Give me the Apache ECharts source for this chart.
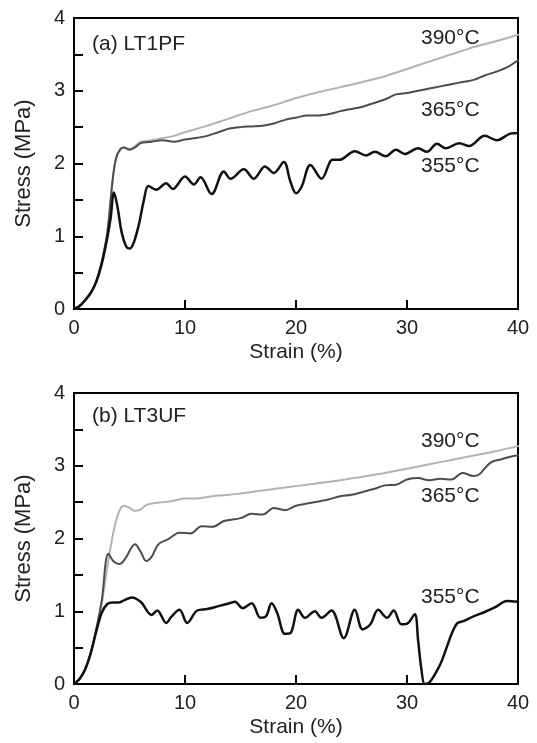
<!DOCTYPE html>
<html>
<head>
<meta charset="utf-8">
<script src="https://cdn.jsdelivr.net/npm/echarts@6/dist/echarts.min.js"></script>
<style>html,body{margin:0;padding:0;background:#fff;}#c{width:537px;height:743px;}</style>
</head>
<body>
<div id="c"></div>
<script>
// ---- Panel (a) LT1PF ----
const strainA390 = [0,0.5,1,1.5,2,2.5,3,3.5,3.8,4.2,4.5,5,5.5,6,7,8,9,10,12,14,16,18,20,22,24,26,28,30,32,34,36,38,40];
const stressA390 = [0,0.04,0.12,0.22,0.38,0.65,1.05,1.8,2.08,2.2,2.22,2.2,2.24,2.3,2.32,2.35,2.38,2.43,2.52,2.62,2.72,2.8,2.9,2.98,3.05,3.12,3.2,3.3,3.4,3.5,3.6,3.68,3.77];

const strainA365 = [0,0.5,1,1.5,2,2.5,3,3.5,3.8,4.2,4.5,5,5.5,6,7,8,9,10,11,12,13,14,15,16,17,18,19,20,21,22,23,24,25,26,27,28,29,30,31,32,33,34,35,36,37,38,39,40];
const stressA365 = [0,0.04,0.12,0.22,0.38,0.65,1.05,1.8,2.08,2.2,2.22,2.19,2.22,2.28,2.3,2.32,2.3,2.33,2.35,2.38,2.43,2.48,2.5,2.51,2.52,2.55,2.6,2.63,2.66,2.66,2.68,2.72,2.75,2.78,2.83,2.88,2.95,2.97,3.0,3.03,3.06,3.09,3.12,3.15,3.21,3.26,3.32,3.42];

const strainA355 = [0,0.5,1,1.5,2,2.5,3,3.3,3.6,3.9,4.3,4.7,5.0,5.4,5.9,6.3,6.7,7.4,8.3,8.9,10.0,10.8,11.4,12.4,13.5,14.1,15.3,16.2,17.2,18.0,18.9,19.5,20.0,20.5,21.3,22.3,23.3,23.9,25.3,26.3,27.1,28.1,29.0,29.8,31.0,31.8,32.7,33.5,34.7,35.6,37.0,38.1,39.3,40];
const stressA355 = [0,0.04,0.12,0.22,0.37,0.62,0.98,1.25,1.6,1.42,1.05,0.86,0.83,0.92,1.2,1.5,1.69,1.64,1.73,1.65,1.82,1.71,1.81,1.58,1.89,1.79,1.92,1.79,1.96,1.87,2.02,1.75,1.59,1.68,1.98,1.79,2.05,2.05,2.17,2.11,2.16,2.1,2.19,2.13,2.21,2.16,2.27,2.21,2.28,2.24,2.38,2.32,2.41,2.42];

// ---- Panel (b) LT3UF ----
const strainB390 = [0,0.5,1,1.5,2,2.5,3,3.5,4,4.5,5,5.5,6,6.5,7,8,9,10,11,12,13,14,15,16,17,18,19,20,22,24,26,28,30,32,34,36,38,40];
const stressB390 = [0,0.07,0.2,0.42,0.75,1.1,1.6,2.05,2.35,2.45,2.42,2.38,2.4,2.46,2.48,2.5,2.52,2.55,2.55,2.57,2.59,2.6,2.62,2.64,2.66,2.68,2.7,2.72,2.76,2.8,2.85,2.9,2.96,3.02,3.08,3.14,3.2,3.27];

const strainB365 = [0,0.5,1,1.5,2,2.5,3.1,3.6,4.1,4.6,5.5,6,6.5,7,7.6,8.5,9.5,10.5,11.5,12.5,13.5,15,16,17,18,19,20,21,22,23,24,25,26,27,28,29,30,31,32,33,34,35,36,36.5,37.5,38.5,39.5,40];
const stressB365 = [0,0.07,0.2,0.42,0.75,1.15,1.79,1.68,1.65,1.72,1.92,1.82,1.69,1.75,1.92,1.99,2.08,2.07,2.17,2.16,2.24,2.28,2.34,2.33,2.42,2.39,2.45,2.48,2.51,2.54,2.58,2.6,2.64,2.68,2.73,2.74,2.81,2.83,2.8,2.82,2.81,2.9,2.86,2.88,3.04,3.09,3.13,3.14];

const strainB355 = [0,0.5,1,1.5,2,2.5,3,3.5,4,4.5,5.2,6,7,7.5,8.3,8.8,9.5,10.2,11.1,12,13,14,14.5,15.2,16,16.8,17.3,17.8,18.3,19,19.5,20.2,20.8,21.7,22.3,23.2,24.3,25.3,26,26.7,27.4,28.2,28.8,29.5,30.1,30.7,31.0,31.3,31.6,32,32.5,33,33.5,34,34.5,35,36,37,38,39,40];
const stressB355 = [0,0.07,0.2,0.42,0.72,0.98,1.1,1.12,1.12,1.15,1.19,1.13,0.95,1.01,0.84,0.93,1.02,0.84,1.01,1.03,1.07,1.11,1.13,1.04,1.11,0.91,0.93,1.11,0.98,0.69,0.7,1.02,0.91,1.0,0.91,1.01,0.63,1.02,0.75,0.82,1.02,0.91,1.01,0.82,0.84,0.96,0.6,0.2,0.0,0.02,0.13,0.27,0.47,0.68,0.83,0.86,0.93,0.99,1.06,1.14,1.13];

const xTicks = [0,10,20,30,40];
const yTicks = [0,1,2,3,4];
const panelTitles = ['(a) LT1PF','(b) LT3UF'];
const tempLabels = ['390°C','365°C','355°C'];

function zip(xs, ys){ return xs.map((x,i)=>[x, ys[i]]); }

const FONT = 'Liberation Sans, Arial, sans-serif';
const grids = [
  {left:74, top:18, width:444, height:291},
  {left:74, top:393, width:444, height:291}
];

function xAxis(i){
  return {
    gridIndex:i, type:'value', min:0, max:40, interval:10,
    name:'Strain (%)', nameLocation:'middle', nameGap:33,
    nameTextStyle:{fontFamily:FONT, fontSize:21, color:'#222'},
    axisLine:{show:false},
    axisTick:{show:true, inside:true, length:9, lineStyle:{color:'#000', width:2}},
    axisLabel:{fontFamily:FONT, fontSize:20, color:'#222', margin:9,
      formatter: v => xTicks.includes(v) ? String(v) : ''},
    splitLine:{show:false}
  };
}
function yAxis(i){
  return {
    gridIndex:i, type:'value', min:0, max:4, interval:0.5,
    name:'Stress (MPa)', nameLocation:'middle', nameGap:39,
    nameTextStyle:{fontFamily:FONT, fontSize:22, color:'#222'},
    axisLine:{show:false},
    axisTick:{show:true, inside:true, length:9, lineStyle:{color:'#000', width:2}},
    axisLabel:{fontFamily:FONT, fontSize:20, color:'#222', margin:9,
      formatter: v => yTicks.includes(v) ? String(v) : ''},
    splitLine:{show:false}
  };
}

function line(i, xs, ys, color, width, smooth){
  return {
    type:'line', xAxisIndex:i, yAxisIndex:i, data:zip(xs,ys),
    showSymbol:false, symbol:'none', smooth:smooth,
    lineStyle:{color:color, width:width, join:'round', cap:'round'}, animation:false
  };
}

const C390 = '#b3b3b3', C365 = '#4d4d4d', C355 = '#111111';

const option = {
  animation:false,
  backgroundColor:'#fff',
  grid: grids.map(g => Object.assign({show:true, borderColor:'#000', borderWidth:2, backgroundColor:'transparent'}, g)),
  xAxis:[xAxis(0), xAxis(1)],
  yAxis:[yAxis(0), yAxis(1)],
  series:[
    line(0, strainA390, stressA390, C390, 2, 0.3),
    line(0, strainA365, stressA365, C365, 2, 0.3),
    line(0, strainA355, stressA355, C355, 2.5, 0.35),
    line(1, strainB390, stressB390, C390, 2, 0.3),
    line(1, strainB365, stressB365, C365, 2, 0.35),
    line(1, strainB355, stressB355, C355, 2.5, 0.35)
  ],
  graphic:[
    {type:'text', x:92, y:44, style:{text:panelTitles[0], font:'21px '+FONT, fill:'#222', textVerticalAlign:'middle'}},
    {type:'text', x:421, y:38, style:{text:tempLabels[0], font:'21px '+FONT, fill:'#222', textVerticalAlign:'middle'}},
    {type:'text', x:421, y:110, style:{text:tempLabels[1], font:'21px '+FONT, fill:'#222', textVerticalAlign:'middle'}},
    {type:'text', x:421, y:166, style:{text:tempLabels[2], font:'21px '+FONT, fill:'#222', textVerticalAlign:'middle'}},
    {type:'text', x:92, y:416, style:{text:panelTitles[1], font:'21px '+FONT, fill:'#222', textVerticalAlign:'middle'}},
    {type:'text', x:421, y:441, style:{text:tempLabels[0], font:'21px '+FONT, fill:'#222', textVerticalAlign:'middle'}},
    {type:'text', x:421, y:496, style:{text:tempLabels[1], font:'21px '+FONT, fill:'#222', textVerticalAlign:'middle'}},
    {type:'text', x:421, y:597, style:{text:tempLabels[2], font:'21px '+FONT, fill:'#222', textVerticalAlign:'middle'}}
  ]
};

const chart = echarts.init(document.getElementById('c'), null, {renderer:'canvas'});
chart.setOption(option);
</script>
</body>
</html>
